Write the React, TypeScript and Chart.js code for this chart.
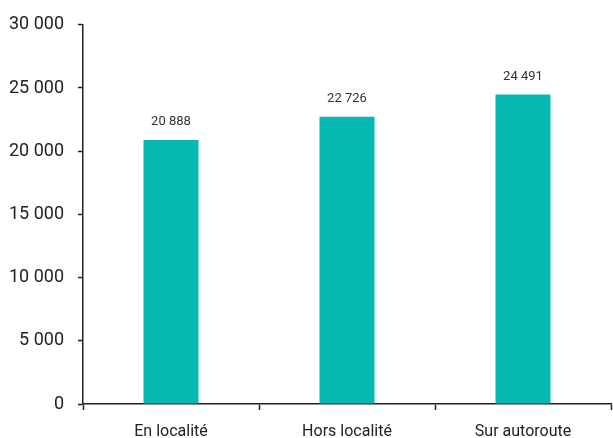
import React, { useEffect, useRef } from "react";
import { Chart, registerables } from "chart.js";

Chart.register(...registerables);

const categories = ["En localité", "Hors localité", "Sur autoroute"];
const values = [20888, 22726, 24491];
const yMax = 30000;
const yStep = 5000;

const fmt = (v: number) =>
  Math.round(v)
    .toString()
    .replace(/\B(?=(\d{3})+(?!\d))/g, " ");

const labelPlugin = {
  id: "barLabels",
  afterDatasetsDraw(chart: any) {
    const ctx = chart.ctx;
    const meta = chart.getDatasetMeta(0);
    ctx.save();
    ctx.font = "13px Roboto";
    ctx.fillStyle = "#333333";
    ctx.textAlign = "center";
    ctx.textBaseline = "middle";
    meta.data.forEach((bar: any, i: number) => {
      ctx.fillText(fmt(values[i]), bar.x, bar.y - 18);
    });
    ctx.restore();
  },
};

export default function App() {
  const ref = useRef<HTMLCanvasElement>(null);
  useEffect(() => {
    if (!ref.current) return;
    const chart = new Chart(ref.current, {
      type: "bar",
      data: {
        labels: categories,
        datasets: [
          {
            data: values,
            backgroundColor: "#08b9b3",
            categoryPercentage: 1,
            barPercentage: 0.3125,
          },
        ],
      },
      options: {
        animation: false,
        responsive: false,
        maintainAspectRatio: false,
        layout: { padding: { top: 23, right: 2, left: 0, bottom: 0 } },
        plugins: { legend: { display: false }, tooltip: { enabled: false } },
        scales: {
          x: {
            grid: {
              offset: true,
              drawOnChartArea: false,
              drawTicks: true,
              tickLength: 6,
              tickWidth: 1.5,
              color: "#222222",
            },
            border: { display: true, color: "#222222", width: 1.5 },
            ticks: {
              color: "#222222",
              font: { family: "Roboto", size: 16 },
              padding: 12,
            },
            afterFit: (s: any) => {
              s.height = 34;
            },
          },
          y: {
            min: 0,
            max: yMax,
            grid: {
              drawOnChartArea: false,
              drawTicks: true,
              tickLength: 5,
              tickWidth: 1.5,
              color: "#222222",
            },
            border: { display: true, color: "#222222", width: 1.5 },
            ticks: {
              stepSize: yStep,
              color: "#222222",
              font: { family: "Roboto", size: 18 },
              padding: 14,
              callback: (v: any) => fmt(Number(v)),
            },
            afterFit: (s: any) => {
              s.width = 83;
            },
          },
        },
      },
      plugins: [labelPlugin],
    });
    return () => chart.destroy();
  }, []);
  return (
    <div style={{ position: "absolute", left: 0, top: 0, width: 613, height: 438, background: "#fff" }}>
      <canvas ref={ref} width={613} height={438} style={{ width: 613, height: 438 }} />
    </div>
  );
}
